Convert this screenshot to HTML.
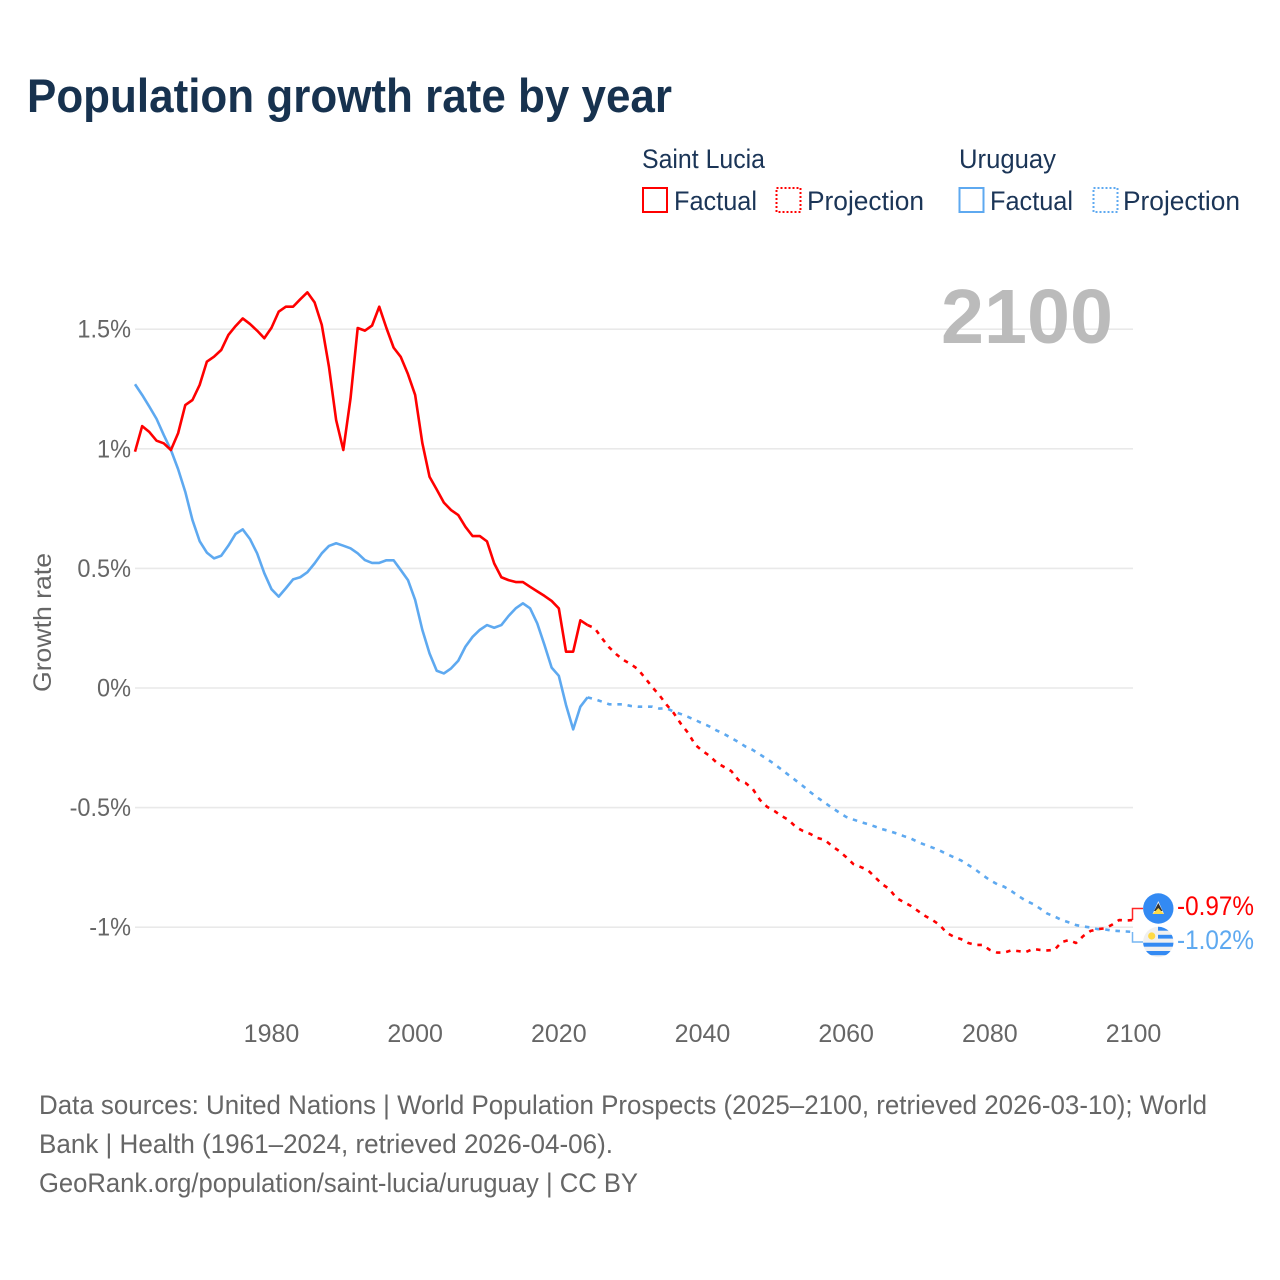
<!DOCTYPE html>
<html lang="en">
<head>
<meta charset="utf-8">
<title>Population growth rate by year</title>
<style>
html,body{margin:0;padding:0;background:#fff;width:1280px;height:1280px;overflow:hidden}
svg{display:block;font-family:"Liberation Sans",sans-serif}
</style>
</head>
<body>
<svg id="chart" xmlns="http://www.w3.org/2000/svg" width="1280" height="1280" viewBox="0 0 1280 1280">
  <rect width="1280" height="1280" fill="#fff"/>
  <text x="27" y="112" font-size="47" font-weight="700" fill="#17324f" textLength="645" lengthAdjust="spacingAndGlyphs">Population growth rate by year</text>

  <g id="legend" font-size="27" fill="#1b3557">
    <text x="642" y="168" textLength="123" lengthAdjust="spacingAndGlyphs">Saint Lucia</text>
    <text x="959" y="168" textLength="97" lengthAdjust="spacingAndGlyphs">Uruguay</text>
    <rect x="643" y="188" width="24" height="24" fill="none" stroke="#ff0000" stroke-width="2"/>
    <text x="674" y="210" textLength="83" lengthAdjust="spacingAndGlyphs">Factual</text>
    <rect x="776.5" y="188" width="24" height="24" fill="none" stroke="#ff0000" stroke-width="2" stroke-dasharray="2 2"/>
    <text x="807" y="210" textLength="117" lengthAdjust="spacingAndGlyphs">Projection</text>
    <rect x="959.5" y="188" width="24" height="24" fill="none" stroke="#5ea9f0" stroke-width="2"/>
    <text x="990" y="210" textLength="83" lengthAdjust="spacingAndGlyphs">Factual</text>
    <rect x="1093.5" y="188" width="24" height="24" fill="none" stroke="#5ea9f0" stroke-width="2" stroke-dasharray="2 2"/>
    <text x="1123" y="210" textLength="117" lengthAdjust="spacingAndGlyphs">Projection</text>
  </g>

  <g id="grid"></g>
  <g id="y-ticks" font-size="25" fill="#666" text-anchor="end"></g>
  <g id="x-ticks" font-size="25" fill="#666" text-anchor="middle"></g>

  <text transform="translate(51,692) rotate(-90)" font-size="25" fill="#666" textLength="139" lengthAdjust="spacingAndGlyphs">Growth rate</text>
  <text x="941" y="343" font-size="77" font-weight="700" fill="#bbbbbb" textLength="172" lengthAdjust="spacingAndGlyphs">2100</text>

  <g id="series"></g>

  <g>
    <circle cx="1158.3" cy="908.5" r="15.2" fill="#338af3"/>
    <polygon points="1158.3,901 1164,914 1152.6,914" fill="#f0f0f0"/>
    <polygon points="1158.3,903 1162.5,911 1154,911" fill="#333"/>
    <polygon points="1158.3,908 1164,914 1152.6,914" fill="#ffda44"/>
  </g>
  <g>
    <clipPath id="uy-clip"><circle cx="1158.3" cy="942" r="15.2"/></clipPath>
    <g clip-path="url(#uy-clip)">
      <rect x="1143" y="926" width="31" height="32" fill="#f0f0f0"/>
      <rect x="1158" y="926" width="16" height="4.7" fill="#338af3"/>
      <rect x="1158" y="934.8" width="16" height="3.8" fill="#338af3"/>
      <rect x="1143" y="942.7" width="31" height="4" fill="#338af3"/>
      <rect x="1143" y="951" width="31" height="4.2" fill="#338af3"/>
      <circle cx="1151.7" cy="936" r="3.6" fill="#ffda44"/>
    </g>
  </g>
  <text x="1177" y="915" font-size="27" fill="#ff0000" textLength="77" lengthAdjust="spacingAndGlyphs">-0.97%</text>
  <text x="1177" y="949" font-size="27" fill="#5ea9f0" textLength="77" lengthAdjust="spacingAndGlyphs">-1.02%</text>

  <g font-size="26.5" fill="#666">
    <text x="39" y="1114" textLength="1168" lengthAdjust="spacingAndGlyphs">Data sources: United Nations | World Population Prospects (2025–2100, retrieved 2026-03-10); World</text>
    <text x="39" y="1153" textLength="574" lengthAdjust="spacingAndGlyphs">Bank | Health (1961–2024, retrieved 2026-04-06).</text>
    <text x="39" y="1192" textLength="599" lengthAdjust="spacingAndGlyphs">GeoRank.org/population/saint-lucia/uruguay | CC BY</text>
  </g>
</svg>
<script>
const xTickYears = [1980, 2000, 2020, 2040, 2060, 2080, 2100];
const yTickValues = [1.5, 1, 0.5, 0, -0.5, -1];
const yTickLabels = ['1.5%', '1%', '0.5%', '0%', '-0.5%', '-1%'];
const factualStartYear = 1961;
const projectionStartYear = 2024;

const saintLuciaFactual = [
  0.988, 1.095, 1.07, 1.034, 1.023, 0.995, 1.065, 1.183, 1.204, 1.267,
  1.364, 1.385, 1.413, 1.476, 1.513, 1.545, 1.522, 1.494, 1.462, 1.506,
  1.573, 1.594, 1.594, 1.625, 1.654, 1.612, 1.518, 1.343, 1.12, 0.995,
  1.21, 1.505, 1.494, 1.515, 1.594, 1.505, 1.423, 1.384, 1.312, 1.225,
  1.024, 0.883, 0.83, 0.775, 0.744, 0.723, 0.674, 0.635, 0.635, 0.613,
  0.521, 0.463, 0.451, 0.443, 0.443, 0.423, 0.404, 0.385, 0.364, 0.333,
  0.152, 0.152, 0.283, 0.263
];
const saintLuciaProjection = [
  0.263, 0.25, 0.208, 0.17, 0.141, 0.117, 0.1, 0.079, 0.042, 0.004,
  -0.03, -0.07, -0.105, -0.15, -0.188, -0.238, -0.263, -0.284, -0.313, -0.33,
  -0.347, -0.385, -0.397, -0.422, -0.468, -0.497, -0.514, -0.535, -0.552, -0.581,
  -0.598, -0.61, -0.627, -0.635, -0.66, -0.681, -0.707, -0.736, -0.748, -0.761,
  -0.79, -0.82, -0.84, -0.878, -0.895, -0.911, -0.932, -0.953, -0.97, -0.99,
  -1.024, -1.04, -1.05, -1.066, -1.074, -1.074, -1.095, -1.106, -1.106, -1.097,
  -1.1, -1.104, -1.091, -1.095, -1.097, -1.095, -1.062, -1.054, -1.066, -1.037,
  -1.016, -1.008, -1.005, -0.99, -0.97, -0.972, -0.97
];
const uruguayFactual = [
  1.27, 1.225, 1.176, 1.125, 1.058, 0.995, 0.915, 0.82, 0.702, 0.614,
  0.566, 0.542, 0.553, 0.595, 0.644, 0.663, 0.623, 0.563, 0.48, 0.413,
  0.382, 0.417, 0.454, 0.463, 0.484, 0.521, 0.563, 0.594, 0.605, 0.595,
  0.584, 0.563, 0.535, 0.523, 0.523, 0.534, 0.534, 0.493, 0.451, 0.368,
  0.243, 0.145, 0.072, 0.061, 0.082, 0.114, 0.173, 0.214, 0.243, 0.263,
  0.252, 0.263, 0.301, 0.333, 0.354, 0.333, 0.27, 0.18, 0.085, 0.051,
  -0.071, -0.173, -0.078, -0.039
];
const uruguayProjection = [
  -0.039, -0.047, -0.057, -0.068, -0.068, -0.068, -0.075, -0.078, -0.078, -0.078,
  -0.086, -0.085, -0.099, -0.109, -0.121, -0.134, -0.148, -0.161, -0.178, -0.192,
  -0.209, -0.226, -0.245, -0.259, -0.278, -0.297, -0.318, -0.341, -0.364, -0.387,
  -0.41, -0.435, -0.458, -0.479, -0.5, -0.52, -0.539, -0.55, -0.56, -0.569,
  -0.579, -0.59, -0.598, -0.608, -0.619, -0.629, -0.644, -0.656, -0.667, -0.679,
  -0.694, -0.708, -0.721, -0.74, -0.759, -0.782, -0.803, -0.82, -0.831, -0.849,
  -0.87, -0.889, -0.903, -0.922, -0.943, -0.955, -0.97, -0.98, -0.991, -0.997,
  -1.001, -1.008, -1.009, -1.014, -1.016, -1.018, -1.02
];

const SVG_NS = 'http://www.w3.org/2000/svg';
const RED = '#ff0000';
const BLUE = '#5ea9f0';
function xScale(year) { return 135 + (year - 1961) * (998.5 / 139); }
function yScale(value) { return 688 - value * 239.2; }

function linePath(values, startYear) {
  return values.map(function (v, i) {
    return (i ? 'L' : 'M') + xScale(startYear + i).toFixed(2) + ' ' + yScale(v).toFixed(2);
  }).join(' ');
}

const gridGroup = document.getElementById('grid');
const yTickGroup = document.getElementById('y-ticks');
const xTickGroup = document.getElementById('x-ticks');
const seriesGroup = document.getElementById('series');

yTickValues.forEach(function (v, i) {
  const gl = document.createElementNS(SVG_NS, 'line');
  
  
  gl.setAttribute('x1', 135);
  gl.setAttribute('x2', 1133);
  gl.setAttribute('y1', yScale(v));
  gl.setAttribute('y2', yScale(v));
  gl.setAttribute('stroke', '#e9e9e9');
  gl.setAttribute('stroke-width', 1.6);
  gridGroup.appendChild(gl);

  const t = document.createElementNS(SVG_NS, 'text');
  
  
  t.setAttribute('x', 131);
  t.setAttribute('y', yScale(v) + 8.5);
  t.textContent = yTickLabels[i];
  yTickGroup.appendChild(t);
  t.setAttribute('textLength', (t.getComputedTextLength() * 0.94).toFixed(1));
  t.setAttribute('lengthAdjust', 'spacingAndGlyphs');
});

xTickYears.forEach(function (year) {
  const t = document.createElementNS(SVG_NS, 'text');
  
  
  t.setAttribute('x', xScale(year));
  t.setAttribute('y', 1042);
  t.textContent = year;
  xTickGroup.appendChild(t);
});

function addSeries(name, values, startYear, color, dashed) {
  const p = document.createElementNS(SVG_NS, 'path');
  
  
  p.setAttribute('d', linePath(values, startYear));
  p.setAttribute('fill', 'none');
  p.setAttribute('stroke', color);
  p.setAttribute('stroke-width', 2.6);
  p.setAttribute('stroke-linejoin', 'round');
  if (dashed) p.setAttribute('stroke-dasharray', '4.5 5.8');
  seriesGroup.appendChild(p);
}

addSeries('uruguay-factual-line', uruguayFactual, factualStartYear, BLUE, false);
addSeries('saint-lucia-factual-line', saintLuciaFactual, factualStartYear, RED, false);
addSeries('uruguay-projection-line', uruguayProjection, projectionStartYear, BLUE, true);
addSeries('saint-lucia-projection-line', saintLuciaProjection, projectionStartYear, RED, true);

function addConnector(name, lastValue, labelY, color) {
  const c = document.createElementNS(SVG_NS, 'path');
  
  
  const x0 = xScale(2100) - 1;
  c.setAttribute('d', 'M' + x0 + ' ' + yScale(lastValue) + ' L' + x0 + ' ' + labelY + ' L1143 ' + labelY);
  c.setAttribute('fill', 'none');
  c.setAttribute('stroke', color);
  c.setAttribute('stroke-width', 1.5);
  c.setAttribute('stroke-opacity', 0.85);
  seriesGroup.appendChild(c);
}
addConnector('saint-lucia-label-connector', saintLuciaProjection[saintLuciaProjection.length - 1], 908.5, RED);
addConnector('uruguay-label-connector', uruguayProjection[uruguayProjection.length - 1], 942, BLUE);
</script>
</body>
</html>
